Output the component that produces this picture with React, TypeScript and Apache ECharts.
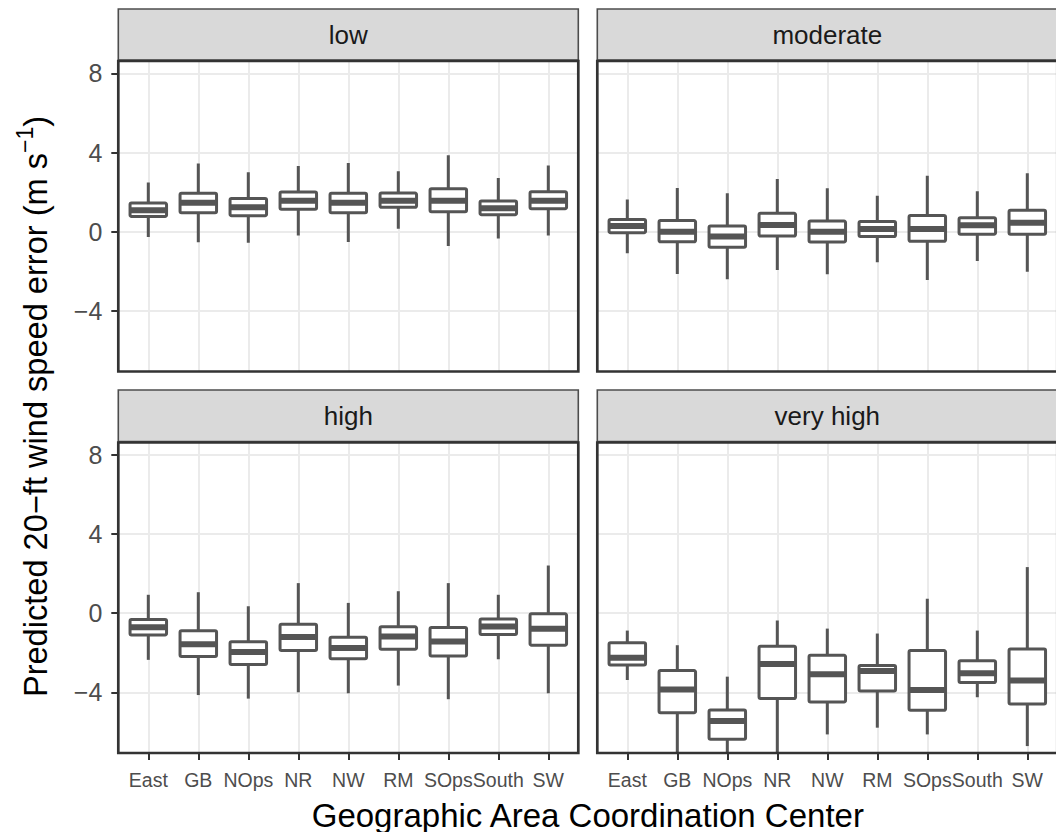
import React, { useEffect, useRef } from "react";
import * as echarts from "echarts";

const categories = ["East", "GB", "NOps", "NR", "NW", "RM", "SOps", "South", "SW"];
const panelNames = ["low", "moderate", "high", "very high"];
const yTicks = [-4, 0, 4, 8];

// each row: [lower whisker, Q1, median, Q3, upper whisker]
const lowStats = [
  [-0.27, 0.77, 1.08, 1.45, 2.49],
  [-0.54, 0.96, 1.46, 1.94, 3.45],
  [-0.56, 0.81, 1.23, 1.68, 3.01],
  [-0.19, 1.13, 1.57, 2.0, 3.32],
  [-0.52, 0.96, 1.46, 1.94, 3.47],
  [0.15, 1.23, 1.57, 1.95, 3.05],
  [-0.72, 1.01, 1.57, 2.17, 3.87],
  [-0.35, 0.86, 1.18, 1.55, 2.71],
  [-0.19, 1.16, 1.57, 2.02, 3.35],
];
const moderateStats = [
  [-1.09, -0.05, 0.29, 0.61, 1.63],
  [-2.14, -0.51, 0.0, 0.56, 2.21],
  [-2.41, -0.79, -0.25, 0.29, 1.94],
  [-1.94, -0.22, 0.34, 0.93, 2.66],
  [-2.15, -0.52, 0.0, 0.54, 2.19],
  [-1.55, -0.25, 0.13, 0.52, 1.82],
  [-2.44, -0.49, 0.13, 0.82, 2.83],
  [-1.48, -0.13, 0.32, 0.71, 2.05],
  [-2.02, -0.13, 0.45, 1.08, 2.96],
];
const highStats = [
  [-2.36, -1.1, -0.71, -0.32, 0.93],
  [-4.14, -2.19, -1.57, -0.89, 1.06],
  [-4.32, -2.6, -1.96, -1.45, 0.35],
  [-4.0, -1.89, -1.2, -0.56, 1.52],
  [-4.05, -2.31, -1.76, -1.22, 0.52],
  [-3.66, -1.82, -1.18, -0.69, 1.11],
  [-4.35, -2.16, -1.43, -0.73, 1.52],
  [-2.33, -1.08, -0.68, -0.3, 0.93],
  [-4.05, -1.62, -0.79, -0.03, 2.41],
];
const veryHighStats = [
  [-3.38, -2.62, -2.26, -1.5, -0.88],
  [-7.5, -5.03, -3.86, -2.9, -1.62],
  [-7.6, -6.38, -5.45, -4.89, -3.21],
  [-7.4, -4.32, -2.57, -1.67, -0.37],
  [-6.13, -4.49, -3.09, -2.13, -0.78],
  [-5.79, -3.93, -2.92, -2.65, -1.03],
  [-6.13, -4.91, -3.88, -1.89, 0.73],
  [-4.25, -3.51, -3.04, -2.4, -0.88],
  [-6.72, -4.59, -3.41, -1.81, 2.33],
];
const allStats = [lowStats, moderateStats, highStats, veryHighStats];

const FONT = "'Liberation Sans', Arial, Helvetica, sans-serif";
const BOX = "#555555";
const GRIDC = "#EBEBEB";
const YMIN = -7.07;
const YMAX = 8.63;

const PANEL_W = 460;
const PANEL_H = 310.5;
const LEFTS = [118.3, 597.3];
const TOPS = [61, 442.5];
const STRIP_TOPS = [9, 390];

export default function App() {
  const ref = useRef<HTMLDivElement>(null);

  useEffect(() => {
    document.body.style.margin = "0";
    if (!ref.current) return;
    const chart = echarts.init(ref.current, null, { renderer: "svg" });

    const xTickVals = categories.map((_, i) => i);
    const grids: any[] = [];
    const xAxes: any[] = [];
    const yAxes: any[] = [];
    const series: any[] = [];
    const graphics: any[] = [];

    panelNames.forEach((name, g) => {
      const col = g % 2;
      const row = Math.floor(g / 2);
      const left = LEFTS[col];
      const top = TOPS[row];
      const isLeft = col === 0;
      const isBottom = row === 1;
      grids.push({
        left,
        top,
        width: PANEL_W,
        height: PANEL_H,
        show: false,
        containLabel: false,
        outerBoundsMode: "none",
      });
      xAxes.push({
        gridIndex: g,
        type: "value",
        position: "bottom",
        min: -0.6,
        max: 8.6,
        axisLine: { show: false, onZero: false },
        axisTick: {
          show: isBottom,
          customValues: xTickVals,
          length: 7,
          lineStyle: { color: "#333333", width: 2 },
        },
        axisLabel: {
          show: isBottom,
          customValues: xTickVals,
          formatter: (v: number) => categories[Math.round(v)] ?? "",
          fontSize: 19.5,
          color: "#4D4D4D",
          margin: 17,
          fontFamily: FONT,
        },
        splitLine: { show: true, lineStyle: { color: GRIDC, width: 2 } },
      });
      yAxes.push({
        gridIndex: g,
        type: "value",
        position: "left",
        min: YMIN,
        max: YMAX,
        axisLine: { show: false, onZero: false },
        axisTick: {
          show: isLeft,
          customValues: yTicks,
          length: 7,
          lineStyle: { color: "#333333", width: 2 },
        },
        axisLabel: {
          show: isLeft,
          customValues: yTicks,
          formatter: (v: number) => (v < 0 ? "\u2212" + Math.abs(v) : String(v)),
          fontSize: 25,
          color: "#4D4D4D",
          margin: 16,
          fontFamily: FONT,
        },
        splitLine: { show: true, lineStyle: { color: GRIDC, width: 2 } },
      });
      const data = allStats[g].map((s, i) => [i, s[0], s[1], s[2], s[3], s[4]]);
      series.push({
        type: "custom",
        xAxisIndex: g,
        yAxisIndex: g,
        clip: true,
        encode: { x: 0, y: [1, 2, 3, 4, 5] },
        data,
        renderItem: (params: any, api: any) => {
          const x = api.value(0);
          const pLo = api.coord([x, api.value(1)]);
          const pQ1 = api.coord([x, api.value(2)]);
          const pMed = api.coord([x, api.value(3)]);
          const pQ3 = api.coord([x, api.value(4)]);
          const pHi = api.coord([x, api.value(5)]);
          const w = api.size([0.73, 0])[0];
          const cx = pLo[0];
          return {
            type: "group",
            children: [
              {
                type: "line",
                shape: { x1: cx, y1: pHi[1], x2: cx, y2: pLo[1] },
                style: { stroke: BOX, lineWidth: 3 },
              },
              {
                type: "rect",
                shape: { x: cx - w / 2, y: pQ3[1], width: w, height: pQ1[1] - pQ3[1], r: 1.5 },
                style: { fill: "#FFFFFF", stroke: BOX, lineWidth: 3 },
              },
              {
                type: "line",
                shape: { x1: cx - w / 2, y1: pMed[1], x2: cx + w / 2, y2: pMed[1] },
                style: { stroke: BOX, lineWidth: 6 },
              },
            ],
          };
        },
      });

      // strip
      const stripTop = STRIP_TOPS[row];
      graphics.push({
        type: "rect",
        z: 100,
        shape: { x: left, y: stripTop, width: PANEL_W, height: top - stripTop - 1 },
        style: { fill: "#D9D9D9", stroke: "#4D4D4D", lineWidth: 1.6 },
      });
      graphics.push({
        type: "text",
        z: 101,
        x: left + PANEL_W / 2,
        y: stripTop + (top - stripTop) / 2,
        style: {
          text: name,
          fontSize: 26,
          fontFamily: FONT,
          fill: "#1A1A1A",
          align: "center",
          verticalAlign: "middle",
        },
      });
      // panel border
      graphics.push({
        type: "rect",
        z: 100,
        shape: { x: left, y: top, width: PANEL_W, height: PANEL_H },
        style: { fill: "none", stroke: "#333333", lineWidth: 2.7 },
      });
    });

    graphics.push({
      type: "text",
      z: 101,
      x: 35.5,
      y: 406.5,
      rotation: Math.PI / 2,
      style: {
        text: "{a|Predicted 20\u2212ft wind speed error (m s}{b|\u22121}{a|)}",
        rich: {
          a: { fontSize: 32.6, lineHeight: 33, fontFamily: FONT, fill: "#000000", verticalAlign: "bottom" },
          b: {
            fontSize: 23,
            lineHeight: 23,
            fontFamily: FONT,
            fill: "#000000",
            verticalAlign: "bottom",
            padding: [0, 0, 16, 0],
          },
        },
        align: "center",
        verticalAlign: "middle",
      },
    });
    graphics.push({
      type: "text",
      z: 101,
      x: 587.8,
      y: 815,
      style: {
        text: "Geographic Area Coordination Center",
        fontSize: 33,
        fontFamily: FONT,
        fill: "#000000",
        align: "center",
        verticalAlign: "middle",
      },
    });

    chart.setOption({
      animation: false,
      backgroundColor: "#FFFFFF",
      textStyle: { fontFamily: FONT },
      grid: grids,
      xAxis: xAxes,
      yAxis: yAxes,
      series,
      graphic: { elements: graphics },
    });

    return () => {
      chart.dispose();
    };
  }, []);

  return <div ref={ref} style={{ width: 1056, height: 832 }} />;
}
